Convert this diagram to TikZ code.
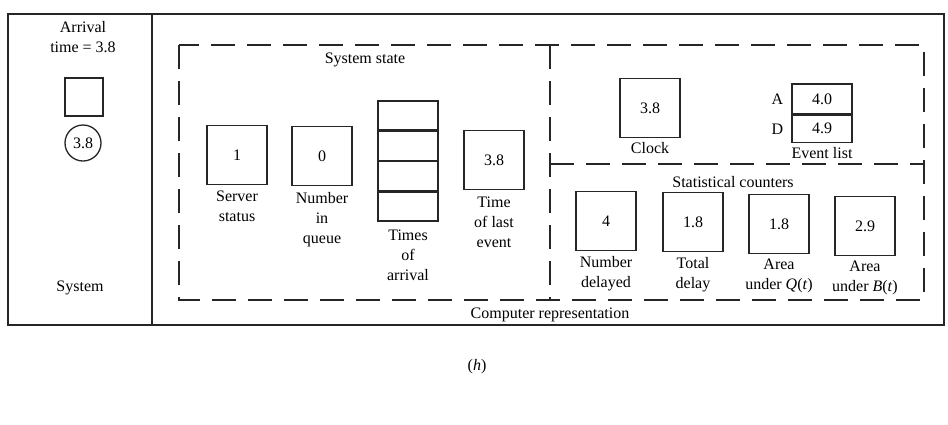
\documentclass[tikz,border=0pt]{standalone}
\usepackage{fontspec}
\setmainfont{Liberation Serif}
\usetikzlibrary{positioning}
\tikzset{
  simtxt/.style={font=\fontsize{16}{20}\selectfont, align=center, inner sep=0pt},
  simbox/.style={draw=black!85, line width=1.3pt, simtxt, minimum width=60pt, minimum height=59pt},
  simcell/.style={draw=black!85, line width=1.3pt, simtxt, minimum width=60pt, minimum height=29pt},
  simframe/.style={draw=black!85, line width=1.8pt},
  simdash/.style={draw=black!85, line width=1.3pt, dash pattern=on 24pt off 12pt}
}
\begin{document}
\begin{tikzpicture}[x=1pt, y=-1pt]
  \useasboundingbox (0,0) rectangle (948,424);
  % outer frame and system panel
  \draw[simframe] (8,14) rectangle (944,325);
  \draw[simframe] (152,14) -- (152,325);
  \node[simtxt] (arr) at (83,37) {Arrival\\time = 3.8};
  \node[draw=black!85, line width=1.3pt, minimum size=38pt, inner sep=0pt] (srv) at (84,97) {};
  \node[draw=black!85, line width=1.3pt, circle, minimum size=36pt, simtxt] (cust) at (83,143) {3.8};
  \node[simtxt] (sys) at (80,288) {System};
  % dashed regions
  \draw[simdash] (179,45) rectangle (924,300);
  \draw[simdash] (550,45) -- (550,300);
  \draw[simdash] (550,164) -- (924,164);
  % system state
  \node[simtxt] (sstate) at (365,60) {System state};
  \node[simbox] (status) at (237,155) {1};
  \node[simtxt, below=6pt of status] {Server\\status};
  \node[simbox] (nq) at (322,156) {0};
  \node[simtxt, below=6pt of nq] {Number\\in\\queue};
  \node[simcell] (ta1) at (408,115.5) {};
  \node[simcell, below=0pt of ta1] (ta2) {};
  \node[simcell, below=0pt of ta2] (ta3) {};
  \node[simcell, below=0pt of ta3] (ta4) {};
  \node[simtxt, below=8pt of ta4] {Times\\of\\arrival};
  \node[simbox] (tle) at (494,160) {3.8};
  \node[simtxt, below=7pt of tle] {Time\\of last\\event};
  % clock and event list
  \node[simbox] (clock) at (650,108) {3.8};
  \node[simtxt, below=4pt of clock] {Clock};
  \node[simcell, minimum height=30pt] (eva) at (822,99) {4.0};
  \node[simcell, minimum height=27pt, below=0pt of eva] (evd) {4.9};
  \node[simtxt, left=8pt of eva] {A};
  \node[simtxt, left=8pt of evd] {D};
  \node[simtxt, below=4pt of evd] {Event list};
  % statistical counters
  \node[simtxt] (stat) at (733,182) {Statistical counters};
  \node[simbox] (ndel) at (606,221) {4};
  \node[simtxt, below=5pt of ndel] {Number\\delayed};
  \node[simbox] (tdel) at (693,222) {1.8};
  \node[simtxt, below=5pt of tdel] {Total\\delay};
  \node[simbox] (aq) at (779,224) {1.8};
  \node[simtxt, below=5pt of aq] {Area\\under \textit{Q}(\textit{t})};
  \node[simbox] (ab) at (865,226) {2.9};
  \node[simtxt, below=5pt of ab] {Area\\under \textit{B}(\textit{t})};
  \node[simtxt] (comp) at (550,315) {Computer representation};
  \node[simtxt] (cap) at (477,367) {(\textit{h})};
\end{tikzpicture}
\end{document}
